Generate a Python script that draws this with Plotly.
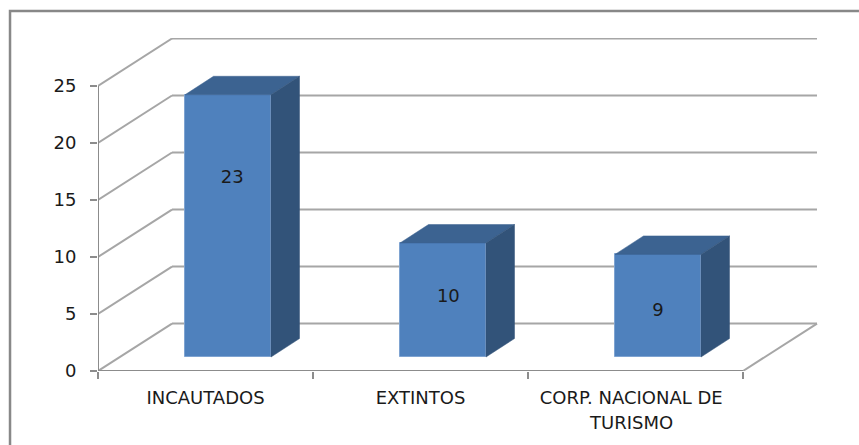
import plotly.graph_objects as go

categories = ["INCAUTADOS", "EXTINTOS", "CORP. NACIONAL DE"]
category_positions = [0.5, 1.5, 2.48]
category_continuation = ["", "", "TURISMO"]
values = [23, 10, 9]
label_heights = [16.85, 6.45, 5.25]
label_shift = [0.02, 0.025, 0.0]
y_ticks = [0, 5, 10, 15, 20, 25]

# oblique projection of the 3D box, in axis units
PX_X = 215.0
PX_Y = 11.42
wall_dx, wall_dy = 74 / PX_X, 47.5 / PX_Y
bar_dx, bar_dy = 28.5 / PX_X, 18.5 / PX_Y
base_dy = 14 / PX_Y
bar_w = 86 / PX_X
bar_c = [i + 0.5 + 22.5 / PX_X for i in range(3)]

GRID = "#a6a6a6"
AXIS = "#8c8c8c"
FONT_Y = dict(family="DejaVu Sans", size=18, color="#1a1a1a")
FONT_X = dict(family="DejaVu Sans", size=18, color="#1a1a1a")

shapes = []
for t in y_ticks:
    shapes.append(dict(type="line", xref="x", yref="y", layer="below",
                       x0=0, y0=t, x1=wall_dx, y1=t + wall_dy, line=dict(color=GRID, width=2)))
    shapes.append(dict(type="line", xref="x", yref="y", layer="below",
                       x0=wall_dx, y0=t + wall_dy, x1=3 + wall_dx, y1=t + wall_dy,
                       line=dict(color=GRID, width=2)))
shapes += [
    dict(type="line", xref="x", yref="y", layer="below", x0=3, y0=0, x1=3 + wall_dx, y1=wall_dy,
         line=dict(color=GRID, width=2)),
    dict(type="line", xref="x", yref="y", layer="below", x0=0, y0=0, x1=3, y1=0,
         line=dict(color=AXIS, width=2)),
    dict(type="line", xref="x", yref="y", layer="below", x0=0, y0=0, x1=0, y1=25,
         line=dict(color=AXIS, width=2)),
    # outer frame, open towards bottom and right
    dict(type="path", xref="paper", yref="paper", layer="below",
         path="M -0.1222 -0.2287 L -0.1222 1.081 L 1.0569 1.081",
         line=dict(color="#888888", width=2.5)),
]

fig = go.Figure()
fig.add_trace(go.Bar(x=bar_c, y=values, base=[base_dy] * 3, width=bar_w, marker=dict(
    color="#4f81bd", line=dict(color="#7ea3d1", width=1)), showlegend=False, hoverinfo="skip"))

for c, v in zip(bar_c, values):
    xl, xr = c - bar_w / 2, c + bar_w / 2
    top = v + base_dy
    fig.add_trace(go.Scatter(
        x=[xl, xr, xr + bar_dx, xl + bar_dx, xl], y=[top, top, top + bar_dy, top + bar_dy, top],
        mode="lines", fill="toself", fillcolor="#3c6391", line=dict(color="#3c6391", width=0.5),
        showlegend=False, hoverinfo="skip"))
    fig.add_trace(go.Scatter(
        x=[xr, xr + bar_dx, xr + bar_dx, xr, xr],
        y=[base_dy, base_dy + bar_dy, top + bar_dy, top, base_dy],
        mode="lines", fill="toself", fillcolor="#325379", line=dict(color="#325379", width=0.5),
        showlegend=False, hoverinfo="skip"))

fig.add_trace(go.Scatter(
    x=[c + s for c, s in zip(bar_c, label_shift)], y=label_heights,
    mode="text", text=[str(v) for v in values], textfont=FONT_Y, textposition="middle center",
    showlegend=False, hoverinfo="skip"))

annotations = [
    dict(x=category_positions[i], y=0, xref="x", yref="y", yanchor="top", xanchor="center",
         yshift=-39, text=t, showarrow=False, font=FONT_X)
    for i, t in enumerate(category_continuation) if t
]

fig.update_layout(
    width=859, height=445, autosize=False,
    margin=dict(l=98, r=41, t=38, b=73.5, pad=0),
    paper_bgcolor="white", plot_bgcolor="white",
    bargap=0, shapes=shapes, annotations=annotations, showlegend=False,
    xaxis=dict(range=[0, 720 / PX_X], tickvals=category_positions, ticktext=categories,
               ticks="", ticklabelstandoff=14, showgrid=False, zeroline=False, showline=False,
               tickfont=FONT_X,
               minor=dict(tickvals=[0, 1, 2, 3], ticks="outside", ticklen=7, tickwidth=2,
                          tickcolor=AXIS, showgrid=False)),
    yaxis=dict(range=[0, 333.5 / PX_Y], tickvals=y_ticks, ticks="outside", ticklen=7, tickwidth=2,
               ticklabelstandoff=10, tickcolor=AXIS, showgrid=False, zeroline=False,
               showline=False, tickfont=FONT_Y),
)

fig.write_html("out.html", config=dict(displayModeBar=False),
               post_script="document.body.style.margin='0';")
